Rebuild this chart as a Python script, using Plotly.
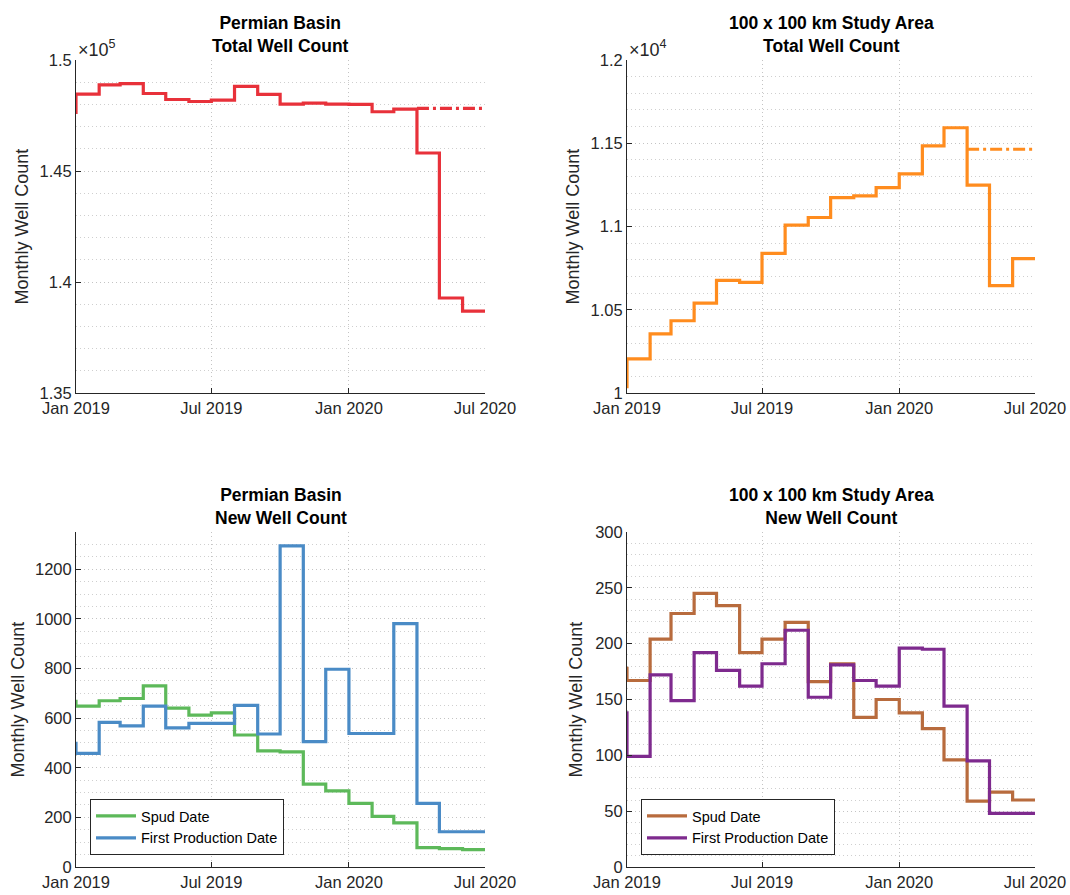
import pandas as pd
import plotly.graph_objects as go

# ---------------- data ----------------
months = pd.date_range("2018-12-01", "2020-06-01", freq="MS")   # Dec 2018 .. Jun 2020
end_date = pd.Timestamp("2020-07-01")
proj_start = pd.Timestamp("2020-04-01")

permian_total = [147640, 148460, 148880, 148940, 148490, 148220, 148130, 148190, 148810,
                 148450, 148010, 148060, 148010, 148000, 147670, 147790, 145810, 139280, 138690]
permian_total_proj = 147820

study_total = [10038, 10205, 10355, 10434, 10540, 10677, 10665, 10839, 11008,
               11054, 11174, 11184, 11233, 11316, 11484, 11593, 11249, 10645, 10807]
study_total_proj = 11464

permian_spud = [668, 648, 670, 679, 730, 640, 612, 621, 532, 468, 464, 334, 307,
                256, 204, 178, 78, 74, 70]
permian_first_prod = [498, 458, 583, 569, 648, 561, 579, 579, 651, 536, 1294, 505, 797,
                      538, 538, 981, 256, 142, 142]

study_spud = [178, 167, 204, 227, 245, 234, 192, 204, 219, 166, 182, 134, 150,
              138, 124, 96, 59, 67, 60]
study_first_prod = [138, 99, 172, 149, 192, 176, 162, 182, 212, 152, 181, 167, 162,
                    196, 195, 144, 95, 48, 48]

x_tickvals = ["2019-01-01", "2019-07-01", "2020-01-01", "2020-07-01"]
x_ticktext = ["Jan 2019", "Jul 2019", "Jan 2020", "Jul 2020"]

tl_ticks = [135000, 140000, 145000, 150000]
tl_text = ["1.35", "1.4", "1.45", "1.5"]
tr_ticks = [10000, 10500, 11000, 11500, 12000]
tr_text = ["1", "1.05", "1.1", "1.15", "1.2"]
bl_ticks = [0, 200, 400, 600, 800, 1000, 1200]
br_ticks = [0, 50, 100, 150, 200, 250, 300]

# ---------------- style ----------------
FONT = "Liberation Sans, Arial, Helvetica, sans-serif"
AX = "#262626"
GRID = "#C4C4C4"
MINOR = "#CFCFCF"
GDASH = "1px,3px"
RED = "#E8313A"
ORANGE = "#FF8C1E"
GREEN = "#5DB95A"
BLUE = "#4A8BC6"
BROWN = "#B86B3D"
PURPLE = "#7E2A8E"
LW = 3.2

W, H = 1070, 895
def px(x): return x / W
def py(y): return 1 - y / H

XL = [px(76), px(485)]
XR = [px(627), px(1035)]
YT = [py(393), py(60)]
YB = [py(867), py(532)]

x_stairs = list(months) + [end_date]
def stairs(v): return list(v) + [v[-1]]

fig = go.Figure()

def add(vals, color, xa, ya, name=None, legend=None):
    fig.add_trace(go.Scatter(
        x=x_stairs, y=stairs(vals), mode="lines", line=dict(color=color, width=LW, shape="hv"),
        xaxis=xa, yaxis=ya, name=name, showlegend=name is not None,
        legend=legend, hoverinfo="skip"))

def add_proj(val, color, xa, ya):
    fig.add_trace(go.Scatter(
        x=[proj_start, end_date], y=[val, val], mode="lines",
        line=dict(color=color, width=LW, dash="12px,4px,3px,4px"),
        xaxis=xa, yaxis=ya, showlegend=False, hoverinfo="skip"))

add(permian_total, RED, "x", "y")
add_proj(permian_total_proj, RED, "x", "y")
add(study_total, ORANGE, "x2", "y2")
add_proj(study_total_proj, ORANGE, "x2", "y2")
add(permian_spud, GREEN, "x3", "y3", "Spud Date", "legend")
add(permian_first_prod, BLUE, "x3", "y3", "First Production Date", "legend")
add(study_spud, BROWN, "x4", "y4", "Spud Date", "legend2")
add(study_first_prod, PURPLE, "x4", "y4", "First Production Date", "legend2")

tickfont = dict(family=FONT, size=16.5, color=AX)

def xax(domain, anchor):
    return dict(domain=domain, anchor=anchor, type="date", automargin=False,
                range=["2019-01-01", "2020-07-01"],
                tickmode="array", tickvals=x_tickvals, ticktext=x_ticktext,
                showline=True, linecolor=AX, linewidth=1, mirror=False,
                ticks="inside", ticklen=5, tickcolor=AX,
                showgrid=True, gridcolor=GRID, griddash=GDASH, gridwidth=1,
                zeroline=False, tickfont=tickfont, fixedrange=True)

def yax(domain, anchor, rng, tv, tt, mdt):
    return dict(domain=domain, anchor=anchor, range=rng, automargin=False,
                tickmode="array", tickvals=tv, ticktext=tt,
                showline=True, linecolor=AX, linewidth=1, mirror=False,
                ticks="inside", ticklen=5, tickcolor=AX,
                showgrid=True, gridcolor=GRID, griddash=GDASH, gridwidth=1,
                minor=dict(tickmode="linear", tick0=0, dtick=mdt, showgrid=True,
                           gridcolor=MINOR, griddash=GDASH, gridwidth=1, ticks=""),
                zeroline=False, tickfont=tickfont, fixedrange=True)

legend_common = dict(xanchor="left", yanchor="bottom", bordercolor=AX, borderwidth=1,
                     bgcolor="white", font=dict(family=FONT, size=14.5, color="black"),
                     tracegroupgap=0, itemwidth=40)

fig.update_layout(
    width=W, height=H, autosize=False,
    margin=dict(l=0, r=0, t=0, b=0, autoexpand=False),
    paper_bgcolor="white", plot_bgcolor="white",
    font=dict(family=FONT, color=AX),
    xaxis=xax(XL, "y"), yaxis=yax(YT, "x", [135000, 150000], tl_ticks, tl_text, 1000),
    xaxis2=xax(XR, "y2"), yaxis2=yax(YT, "x2", [10000, 12000], tr_ticks, tr_text, 100),
    xaxis3=xax(XL, "y3"), yaxis3=yax(YB, "x3", [0, 1350], bl_ticks, [str(v) for v in bl_ticks], 50),
    xaxis4=xax(XR, "y4"), yaxis4=yax(YB, "x4", [0, 300], br_ticks, [str(v) for v in br_ticks], 10),
    legend=dict(x=px(90), y=py(855), **legend_common),
    legend2=dict(x=px(641), y=py(855), **legend_common),
)

titles = [
    (XL, YT, "Permian Basin", "Total Well Count"),
    (XR, YT, "100 x 100 km Study Area", "Total Well Count"),
    (XL, YB, "Permian Basin", "New Well Count"),
    (XR, YB, "100 x 100 km Study Area", "New Well Count"),
]
for xd, yd, l1, l2 in titles:
    fig.add_annotation(xref="paper", yref="paper", x=(xd[0] + xd[1]) / 2, y=yd[1],
                       xanchor="center", yanchor="bottom", yshift=2, showarrow=False,
                       text=f"<b>{l1}</b><br><b>{l2}</b>",
                       font=dict(family=FONT, size=17.5, color="black"))

for x, yd in [(22, YT), (573, YT), (17, YB), (575, YB)]:
    fig.add_annotation(xref="paper", yref="paper", x=px(x), y=(yd[0] + yd[1]) / 2,
                       xanchor="center", yanchor="middle", textangle=-90, showarrow=False,
                       text="Monthly Well Count", font=dict(family=FONT, size=18, color=AX))

for xd, expo in [(XL, 5), (XR, 4)]:
    fig.add_annotation(xref="paper", yref="paper", x=xd[0], y=YT[1],
                       xanchor="left", yanchor="bottom", yshift=-2, showarrow=False,
                       text=f"\u00d710<sup>{expo}</sup>",
                       font=dict(family=FONT, size=18, color=AX))

fig.write_html("out.html", config={"displayModeBar": False},
               post_script="document.body.style.margin='0px';")
